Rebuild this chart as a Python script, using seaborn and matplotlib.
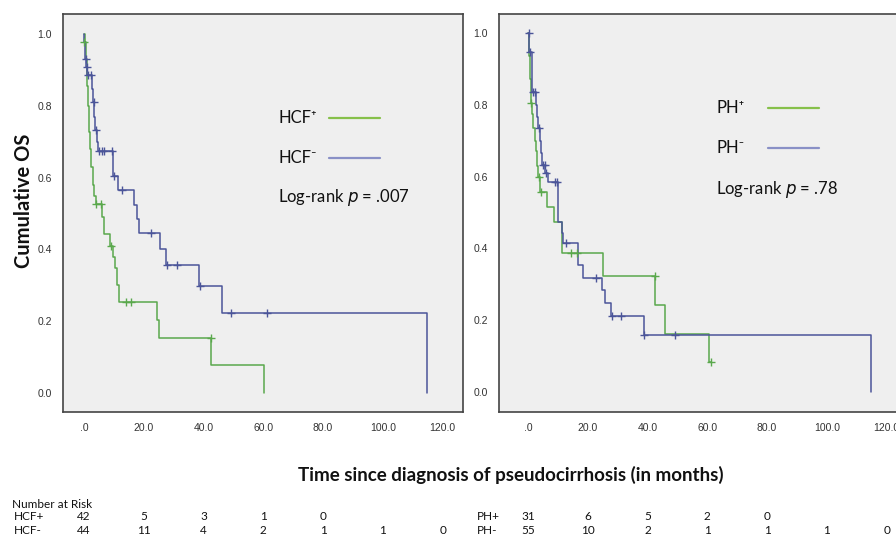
import numpy as np
import pandas as pd
import matplotlib
matplotlib.use("Agg")
import matplotlib.pyplot as plt
import matplotlib.transforms as mtransforms
import seaborn as sns

# ---------------- data ----------------
# HCF+ (green) Kaplan-Meier steps
hcfp_t = [0, 0.3, 0.6, 0.9, 1.2, 1.6, 2.0, 2.4, 2.9, 3.4, 3.9, 6.1, 6.7, 8.7, 9.8, 10.3, 11.2, 11.8, 24.6, 25.1, 42.4, 60.3]
hcfp_s = [1.0, 0.977, 0.93, 0.855, 0.80, 0.727, 0.68, 0.63, 0.58, 0.55, 0.527, 0.49, 0.443, 0.41, 0.38, 0.347, 0.30, 0.254, 0.203, 0.154, 0.077, 0.0]
hcfp_ct = [0.0, 4.2, 5.6, 9.0, 14.0, 15.9, 42.4]
hcfp_cs = [0.977, 0.527, 0.527, 0.41, 0.254, 0.254, 0.154]

# HCF- (blue)
hcfn_t = [0, 0.1, 0.3, 0.5, 0.8, 1.1, 2.8, 3.1, 3.5, 3.8, 4.3, 4.6, 9.8, 11.5, 16.8, 17.6, 18.5, 25.6, 27.6, 38.6, 46.3, 114.6]
hcfn_s = [1.0, 0.977, 0.955, 0.932, 0.909, 0.886, 0.848, 0.81, 0.77, 0.733, 0.70, 0.675, 0.604, 0.565, 0.524, 0.485, 0.445, 0.40, 0.357, 0.297, 0.222, 0.0]
hcfn_ct = [0.6, 0.9, 1.5, 2.3, 3.4, 4.0, 5.1, 5.9, 6.7, 9.5, 10.0, 12.6, 22.3, 27.8, 31.0, 38.8, 49.2, 61.3]
hcfn_cs = [0.932, 0.909, 0.886, 0.886, 0.81, 0.733, 0.675, 0.675, 0.675, 0.675, 0.604, 0.565, 0.445, 0.357, 0.357, 0.297, 0.222, 0.222]

# PH+ (green)
php_t = [0, 0.3, 0.6, 0.9, 1.3, 1.8, 2.2, 2.6, 2.9, 3.3, 3.9, 6.2, 8.8, 11.3, 25.2, 42.5, 46.0, 60.5, 61.1]
php_s = [1.0, 0.935, 0.871, 0.806, 0.774, 0.735, 0.70, 0.67, 0.63, 0.598, 0.558, 0.516, 0.474, 0.388, 0.323, 0.242, 0.162, 0.082, 0.082]
php_ct = [1.0, 3.8, 4.3, 14.3, 16.5, 42.5, 61.1]
php_cs = [0.806, 0.598, 0.558, 0.388, 0.388, 0.323, 0.082]

# PH- (blue)
phn_t = [0, 0.5, 1.2, 2.6, 3.0, 3.4, 3.9, 4.3, 4.8, 5.6, 6.8, 10.1, 11.3, 11.8, 16.8, 18.5, 24.6, 25.8, 27.8, 38.8, 114.6]
phn_s = [1.0, 0.946, 0.836, 0.80, 0.767, 0.734, 0.70, 0.665, 0.632, 0.609, 0.584, 0.474, 0.442, 0.416, 0.354, 0.318, 0.284, 0.247, 0.212, 0.159, 0.0]
phn_ct = [0.2, 0.8, 1.8, 2.3, 3.7, 5.1, 5.6, 5.9, 9.2, 9.8, 12.6, 22.6, 28.2, 31.0, 38.9, 49.2]
phn_cs = [1.0, 0.946, 0.836, 0.836, 0.734, 0.632, 0.632, 0.609, 0.584, 0.584, 0.416, 0.318, 0.212, 0.212, 0.159, 0.159]

x_ticks = [0, 20, 40, 60, 80, 100, 120]
x_ticklabels = [".0", "20.0", "40.0", "60.0", "80.0", "100.0", "120.0"]
y_ticks = [0.0, 0.2, 0.4, 0.6, 0.8, 1.0]
y_ticklabels = ["0.0", "0.2", "0.4", "0.6", "0.8", "1.0"]

risk_times = [0, 20, 40, 60, 80, 100, 120]
hcf_pos_risk = [42, 5, 3, 1, 0]
hcf_neg_risk = [44, 11, 4, 2, 1, 1, 0]
ph_pos_risk = [31, 6, 5, 2, 0]
ph_neg_risk = [55, 10, 2, 1, 1, 1, 0]

# ---------------- styling ----------------
GREEN = "#5aa84c"
BLUE = "#4b5599"
LEG_GREEN = "#86c04a"
LEG_BLUE = "#8990c6"
BG = "#efefef"
SPINE = "#444444"

sns.set_style("white")
plt.rcParams["font.family"] = ["Lato", "DejaVu Sans"]

fig = plt.figure(figsize=(8.96, 5.40), dpi=100)
W, H = 896.0, 540.0

def make_ax(left_px, right_px, top_px, bottom_px):
    return fig.add_axes([left_px / W, 1 - bottom_px / H, (right_px - left_px) / W, (bottom_px - top_px) / H])

ax1 = make_ax(63, 463, 14, 412)
ax2 = make_ax(499, 907, 14, 412)

def draw_curve(ax, t, s, ct, cs, color):
    df = pd.DataFrame({"t": t, "s": s})
    sns.lineplot(data=df, x="t", y="s", ax=ax, color=color, lw=1.1,
                 drawstyle="steps-post", estimator=None, sort=False)
    dc = pd.DataFrame({"t": ct, "s": cs})
    sns.scatterplot(data=dc, x="t", y="s", ax=ax, color=color, marker="+",
                    s=28, linewidth=1.0, zorder=3)

draw_curve(ax1, hcfp_t, hcfp_s, hcfp_ct, hcfp_cs, GREEN)
draw_curve(ax1, hcfn_t, hcfn_s, hcfn_ct, hcfn_cs, BLUE)
draw_curve(ax2, php_t, php_s, php_ct, php_cs, GREEN)
draw_curve(ax2, phn_t, phn_s, phn_ct, phn_cs, BLUE)

for ax, xl, yl in [(ax1, (-7.0, 126.8), (-0.053, 1.056)), (ax2, (-9.7, 126.8), (-0.056, 1.053))]:
    ax.set_facecolor(BG)
    ax.set_xlim(*xl)
    ax.set_ylim(*yl)
    ax.set_xticks(x_ticks)
    ax.set_xticklabels(x_ticklabels, fontsize=7.5, color="#333333", family=["Liberation Sans", "DejaVu Sans"])
    ax.set_yticks(y_ticks)
    ax.set_yticklabels(y_ticklabels, fontsize=7.5, color="#333333", family=["Liberation Sans", "DejaVu Sans"])
    ax.tick_params(axis="both", direction="out", length=5, width=1.0, color=SPINE, pad=3)
    ax.set_xlabel("")
    ax.set_ylabel("")
    for sp in ax.spines.values():
        sp.set_color(SPINE)
        sp.set_linewidth(1.2)

# y label
fig.text(24 / W, 1 - 201 / H, "Cumulative OS", rotation=90, ha="center", va="center",
         fontsize=14.5, fontweight="bold", color="#111111")

# legends as text + lines
def legend_block(x_text_px, y1_px, y2_px, yl_px, lab1, lab2, pval, line_x0, line_x1):
    fig.text(x_text_px / W, 1 - y1_px / H, lab1, ha="left", va="center", fontsize=12,
             color="#111111", family=["Lato", "DejaVu Sans"])
    fig.text(x_text_px / W, 1 - y2_px / H, lab2, ha="left", va="center", fontsize=12,
             color="#111111", family=["Lato", "DejaVu Sans"])
    fig.add_artist(plt.Line2D([line_x0 / W, line_x1 / W], [1 - y1_px / H, 1 - y1_px / H], color=LEG_GREEN, lw=1.6))
    fig.add_artist(plt.Line2D([line_x0 / W, line_x1 / W], [1 - y2_px / H, 1 - y2_px / H], color=LEG_BLUE, lw=1.6))
    fig.text(x_text_px / W, 1 - yl_px / H, "Log-rank $\\it{p}$ = " + pval, ha="left", va="center",
             fontsize=12, color="#111111")

legend_block(278, 118, 158, 198, "HCF\u207a", "HCF\u207b", ".007", 329, 380)
legend_block(716, 108, 148, 190, "PH\u207a", "PH\u207b", ".78", 768, 819)

# x label
fig.text(511 / W, 1 - 475 / H, "Time since diagnosis of pseudocirrhosis (in months)", ha="center", va="center",
         fontsize=13.5, fontweight="bold", color="#111111")

# number at risk table
fig.text(12 / W, 1 - 504 / H, "Number at Risk", ha="left", va="center", fontsize=8.5, color="#111111")
tr1 = mtransforms.blended_transform_factory(ax1.transData, fig.transFigure)
tr2 = mtransforms.blended_transform_factory(ax2.transData, fig.transFigure)
rows = [(tr1, 14, "HCF+", hcf_pos_risk, 517), (tr1, 14, "HCF-", hcf_neg_risk, 531),
        (tr2, 477, "PH+", ph_pos_risk, 517), (tr2, 477, "PH-", ph_neg_risk, 531)]
for tr, lx, lab, vals, ypx in rows:
    fig.text(lx / W, 1 - ypx / H, lab, ha="left", va="center", fontsize=8.5, color="#111111")
    for tt, v in zip(risk_times, vals):
        fig.text(tt, 1 - ypx / H, str(v), transform=tr, ha="center", va="center", fontsize=8.5, color="#111111")

fig.savefig("out.png", dpi=100, facecolor="white")
